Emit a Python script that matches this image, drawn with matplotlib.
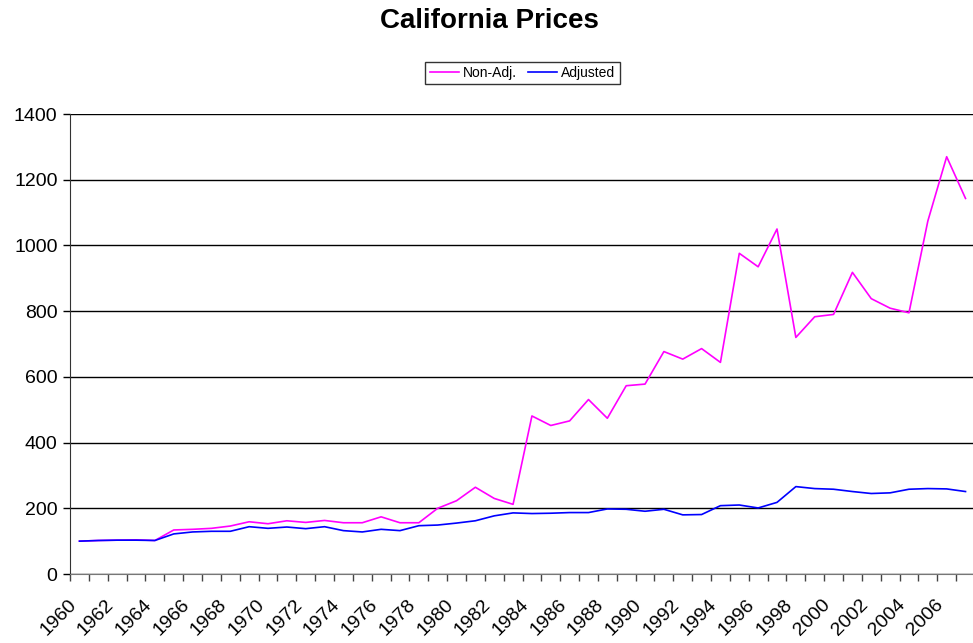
import numpy as np
import matplotlib.pyplot as plt
from matplotlib.transforms import ScaledTranslation

plt.rcParams['font.family'] = ['Liberation Sans', 'DejaVu Sans']

years = list(range(1960, 2008))
non_adj = [100, 102, 103, 104, 102, 134, 136, 139, 146, 159,
           153, 162, 157, 163, 156, 156, 174, 156, 156, 200,
           223, 264, 230, 212, 481, 452, 466, 531, 474, 573,
           578, 677, 654, 686, 644, 976, 935, 1050, 720, 783,
           790, 918, 838, 809, 795, 1074, 1270, 1143]
adjusted = [100, 102, 103, 103, 102, 122, 128, 130, 130, 144,
            139, 143, 138, 144, 132, 128, 136, 132, 147, 149,
            155, 162, 177, 186, 184, 185, 187, 187, 198, 197,
            191, 197, 180, 181, 208, 210, 201, 218, 266, 260,
            258, 251, 245, 247, 258, 260, 259, 251]

fig = plt.figure(figsize=(9.73, 6.43), dpi=100)
ax = fig.add_axes([0.072, 0.1073, 0.930, 0.7154])

x = np.arange(len(years))
ax.plot(x, non_adj, color='#FF00FF', lw=1.2, label='Non-Adj.')
ax.plot(x, adjusted, color='#0000FF', lw=1.2, label='Adjusted')

ax.set_xlim(-0.5, len(years) - 0.5)
ax.set_ylim(0, 1400)
ax.set_yticks(range(0, 1401, 200))
ax.yaxis.grid(True, color='black', lw=1)
ax.set_axisbelow(True)

ax.set_xticks(x[::2])
ax.set_xticklabels([str(y) for y in years[::2]], rotation=45, ha='right',
                   rotation_mode='anchor', fontsize=14)
ax.set_xticks(np.arange(-0.5, len(years), 1), minor=True)
ax.tick_params(axis='x', which='major', length=0, pad=8)
ax.tick_params(axis='x', which='minor', length=5, width=1, color='#444444')
ax.tick_params(axis='y', length=5, width=1, labelsize=14, pad=4)

# shift the rotated labels down-left, like the original
off = ScaledTranslation(-0.12, -0.11, fig.dpi_scale_trans)
for lab in ax.get_xticklabels():
    lab.set_transform(lab.get_transform() + off)

for s in ['top', 'right']:
    ax.spines[s].set_visible(False)
ax.spines['left'].set_color('#333333')
ax.spines['bottom'].set_color('#777777')

fig.text(0.503, 0.967, 'California Prices', fontsize=20, fontweight='bold',
         ha='center', va='center')
leg = fig.legend(loc='center', bbox_to_anchor=(0.537, 0.886), ncol=2, fontsize=10,
                 frameon=True, fancybox=False, handlelength=2.1, columnspacing=0.8,
                 borderpad=0.3, handletextpad=0.3, borderaxespad=0)
leg.get_frame().set_edgecolor('black')
leg.get_frame().set_linewidth(1)

fig.savefig('out.png', dpi=100)
